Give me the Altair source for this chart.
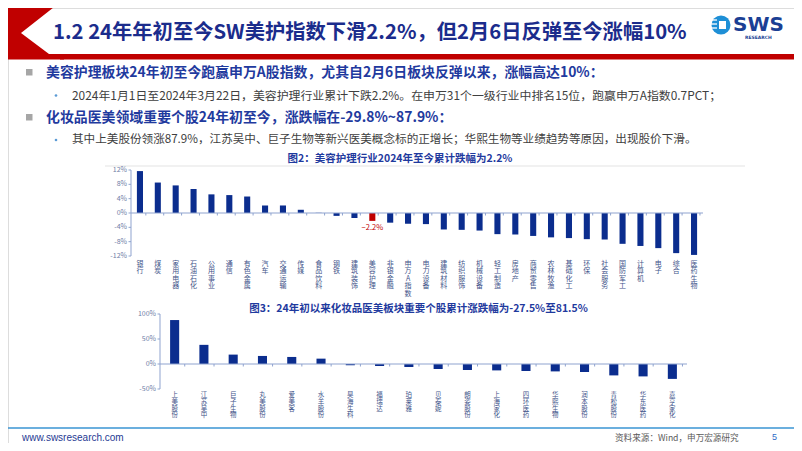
import altair as alt
import pandas as pd

# ---------------- data ----------------
industries = ["银行", "煤炭", "家用电器", "石油石化", "公用事业", "通信", "有色金属", "汽车",
              "交通运输", "传媒", "食品饮料", "钢铁", "建筑装饰", "美容护理", "非银金融", "申万A指数",
              "电力设备", "建筑材料", "纺织服饰", "机械设备", "轻工制造", "房地产", "商贸零售", "农林牧渔",
              "基础化工", "环保", "社会服务", "国防军工", "计算机", "电子", "综合", "医药生物"]
industry_ret = [11.7, 8.5, 7.7, 6.7, 5.2, 5.0, 4.6, 2.1,
                2.1, 0.9, 0.05, -0.8, -1.4, -2.2, -2.7, -3.0,
                -3.1, -4.6, -4.7, -4.9, -5.9, -6.0, -6.4, -6.8,
                -7.0, -7.3, -7.4, -8.6, -9.2, -9.8, -11.2, -11.7]
stocks = ["上美股份", "江苏吴中", "巨子生物", "丸美股份", "爱美客", "水羊股份", "昊海生科", "福瑞达",
          "珀莱雅", "贝泰妮", "朗姿股份", "上海家化", "四环医药", "华熙生物", "润本股份", "青松股份",
          "华东医药", "嘉亨家化"]
stock_ret = [87.9, 38.3, 18.8, 16.1, 14.1, 10.7, -2.5, -4.0,
             -6.0, -10.0, -12.0, -12.8, -14.0, -14.8, -16.0, -22.8,
             -24.8, -29.8]
y1_ticks = [12, 8, 4, 0, -4, -8, -12]
y2_ticks = [100, 50, 0, -50]
highlight = "美容护理"

title_text = "1.2 24年年初至今SW美护指数下滑2.2%，但2月6日反弹至今涨幅10%"
bullet1 = "美容护理板块24年初至今跑赢申万A股指数，尤其自2月6日板块反弹以来，涨幅高达10%："
bullet1a = "2024年1月1日至2024年3月22日，美容护理行业累计下跌2.2%。在申万31个一级行业中排名15位，跑赢申万A指数0.7PCT；"
bullet2 = "化妆品医美领域重要个股24年初至今，涨跌幅在-29.8%~87.9%："
bullet2a = "其中上美股份领涨87.9%，江苏吴中、巨子生物等新兴医美概念标的正增长；华熙生物等业绩趋势等原因，出现股价下滑。"
chart1_title = "图2：美容护理行业2024年至今累计跌幅为2.2%"
chart2_title = "图3：24年初以来化妆品医美板块重要个股累计涨跌幅为-27.5%至81.5%"
footer_left = "www.swsresearch.com"
footer_right = "资料来源：Wind，申万宏源研究"
page_no = "5"

# ---------------- styling ----------------
CJK = "Noto Sans CJK SC"
BAR = "#0B2D8E"
RED = "#C00000"
TITLE_BLUE = "#1B2C8C"
BUL_BLUE = "#1F3A9E"
AX = "#8FA3CF"
AX_TXT = "#6E7EA6"
CAT_TXT = "#42548A"

W, H = 786, 435
def X(p):
    return p - 8
def Y(p):
    return p - 8

one = pd.DataFrame({"k": [0]})

def txt(s, x, y, size, color, weight="normal", align="left", font=CJK):
    return alt.Chart(one).mark_text(text=s, align=align, baseline="middle", fontSize=size,
                                    color=color, fontWeight=weight, font=font).encode(
        x=alt.value(X(x)), y=alt.value(Y(y)))

def rect(x1, y1, x2, y2, color):
    return alt.Chart(one).mark_rect(color=color).encode(
        x=alt.value(X(x1)), x2=alt.value(X(x2)), y=alt.value(Y(y1)), y2=alt.value(Y(y2)))

def rule(x1, y1, x2, y2, color, w=1.0):
    return alt.Chart(one).mark_rule(color=color, strokeWidth=w).encode(
        x=alt.value(X(x1)), x2=alt.value(X(x2)), y=alt.value(Y(y1)), y2=alt.value(Y(y2)))

layers = []

# ---------------- header ----------------
def norm(px, py, cx=32, cy=32, r=32):
    return f"{(px - cx) / r:.4f},{(py - cy) / r:.4f}"
chev_pts = [(12, 0), (63, 0), (21, 33), (49, 54), (64, 54), (64, 59.5), (0, 59.5), (0, 10)]
chev_path = "M" + " L".join(norm(a, b) for a, b in chev_pts) + " Z"
layers.append(alt.Chart(one).mark_point(shape=chev_path, filled=True, size=64 * 64, color=RED,
                                        opacity=1, strokeWidth=0).encode(
    x=alt.value(X(32)), y=alt.value(Y(32))))
layers.append(rect(60, 54, 800, 59.5, RED))
layers.append(txt(title_text, 53, 33, 20.3, TITLE_BLUE, weight="bold"))

# logo
layers.append(alt.Chart(one).mark_circle(size=360, color="#1E8FD6", opacity=1).encode(
    x=alt.value(X(721)), y=alt.value(Y(25))))
for yy in (20, 24, 28):
    layers.append(rule(711, yy, 717, yy, "white", 1.3))
layers.append(rect(719, 21, 726, 29, "white"))
layers.append(txt("SWS", 733, 25, 20, "#1B3F94", weight="bold", font="DejaVu Sans"))
layers.append(txt("RESEARCH", 745, 37.5, 4.5, "#1B3F94", weight="bold", font="DejaVu Sans"))

# ---------------- bullets ----------------
layers.append(rect(26, 69, 32.5, 75.5, "#A6A6A6"))
layers.append(txt(bullet1, 46, 72.5, 13.9, BUL_BLUE, weight="bold"))
layers.append(alt.Chart(one).mark_circle(size=7, color="#5B9BD5", opacity=1).encode(
    x=alt.value(X(56)), y=alt.value(Y(95.5))))
layers.append(txt(bullet1a, 72, 95.5, 11.9, "#404040"))
layers.append(rect(26, 114, 32.5, 120.5, "#A6A6A6"))
layers.append(txt(bullet2, 46, 117.5, 13.9, BUL_BLUE, weight="bold"))
layers.append(alt.Chart(one).mark_circle(size=7, color="#5B9BD5", opacity=1).encode(
    x=alt.value(X(56)), y=alt.value(Y(140))))
layers.append(txt(bullet2a, 72, 140, 11.6, "#404040"))

# helper: vertical (stacked) category labels, one character per row
def stacked_labels(df, field, xscale, top, step, size, maxlen):
    out = []
    for i in range(maxlen):
        out.append(alt.Chart(df).transform_calculate(
            c=f"substring(datum.{field}, {i}, {i + 1})").mark_text(
            baseline="top", align="center", fontSize=size, color=CAT_TXT, font=CJK).encode(
            x=alt.X(f"{field}:N", scale=xscale, axis=None, sort=None),
            y=alt.value(Y(top + i * step)),
            text="c:N"))
    return out

# ---------------- chart 1 ----------------
layers.append(txt(chart1_title, 400, 159, 10.5, BUL_BLUE, weight="bold", align="center"))
layers.append(rule(105, 166, 745, 166, "#E3E3E3", 1))

df1 = pd.DataFrame({"ind": industries, "v": industry_ret})
xs1 = alt.Scale(domain=industries, range=[X(131), X(703)], paddingInner=0.66, paddingOuter=0.33)
ys1 = alt.Scale(domain=[-12, 12], range=[Y(256), Y(170)], nice=False)
step1 = (703 - 131) / len(industries)

layers.append(alt.Chart(df1).mark_bar().encode(
    x=alt.X("ind:N", scale=xs1, axis=None, sort=None),
    y=alt.Y("v:Q", scale=ys1, axis=None),
    y2=alt.datum(0),
    color=alt.condition(alt.datum.ind == highlight, alt.value(RED), alt.value(BAR))))
layers.append(alt.Chart(df1).transform_filter(alt.datum.ind == highlight).transform_calculate(
    t="format(datum.v, '.1f') + '%'").mark_text(
    baseline="top", align="center", fontSize=7.5, color=RED, dy=3, font=CJK).encode(
    x=alt.X("ind:N", scale=xs1, axis=None, sort=None),
    y=alt.Y("v:Q", scale=ys1, axis=None),
    text="t:N"))
layers += stacked_labels(df1, "ind", xs1, 259.5, 7.6, 7, max(len(s) for s in industries))
# axes chart 1
layers.append(alt.Chart(one).mark_rule(color=AX, strokeWidth=1).encode(
    x=alt.value(X(131)), y=alt.YDatum(-12, scale=ys1, axis=None), y2=alt.Y2Datum(12)))
layers.append(alt.Chart(one).mark_rule(color=AX, strokeWidth=1).encode(
    x=alt.value(X(131)), x2=alt.value(X(703)), y=alt.YDatum(0, scale=ys1, axis=None)))
dft1 = pd.DataFrame({"t": y1_ticks, "tl": [f"{t}%" for t in y1_ticks]})
layers.append(alt.Chart(dft1).mark_text(align="right", baseline="middle", fontSize=7,
                                        color=AX_TXT, font=CJK).encode(
    x=alt.value(X(127)), y=alt.Y("t:Q", scale=ys1, axis=None), text="tl:N"))
layers.append(alt.Chart(dft1).mark_rule(color=AX, strokeWidth=1).encode(
    x=alt.value(X(128.5)), x2=alt.value(X(131)), y=alt.Y("t:Q", scale=ys1, axis=None)))
layers.append(alt.Chart(df1).mark_rule(color=AX, strokeWidth=1).encode(
    x=alt.X("ind:N", scale=xs1, axis=None, sort=None),
    xOffset=alt.value(step1 / 2),
    y=alt.value(Y(213)), y2=alt.value(Y(215.5))))

# ---------------- chart 2 ----------------
layers.append(txt(chart2_title, 418.5, 309, 10.5, BUL_BLUE, weight="bold", align="center"))
df2 = pd.DataFrame({"stk": stocks, "v": stock_ret})
xs2 = alt.Scale(domain=stocks, range=[X(160), X(687)], paddingInner=0.69, paddingOuter=0.345)
ys2 = alt.Scale(domain=[-50, 100], range=[Y(389), Y(314)], nice=False)
step2 = (687 - 160) / len(stocks)

layers.append(alt.Chart(df2).mark_bar(color=BAR).encode(
    x=alt.X("stk:N", scale=xs2, axis=None, sort=None),
    y=alt.Y("v:Q", scale=ys2, axis=None),
    y2=alt.datum(0)))
layers += stacked_labels(df2, "stk", xs2, 392, 6.8, 6.5, max(len(s) for s in stocks))
layers.append(alt.Chart(one).mark_rule(color=AX, strokeWidth=1).encode(
    x=alt.value(X(160)), y=alt.YDatum(-50, scale=ys2, axis=None), y2=alt.Y2Datum(100)))
layers.append(alt.Chart(one).mark_rule(color=AX, strokeWidth=1).encode(
    x=alt.value(X(160)), x2=alt.value(X(687)), y=alt.YDatum(0, scale=ys2, axis=None)))
dft2 = pd.DataFrame({"t": y2_ticks, "tl": [f"{t}%" for t in y2_ticks]})
layers.append(alt.Chart(dft2).mark_text(align="right", baseline="middle", fontSize=7,
                                        color=AX_TXT, font=CJK).encode(
    x=alt.value(X(156)), y=alt.Y("t:Q", scale=ys2, axis=None), text="tl:N"))
layers.append(alt.Chart(dft2).mark_rule(color=AX, strokeWidth=1).encode(
    x=alt.value(X(157.5)), x2=alt.value(X(160)), y=alt.Y("t:Q", scale=ys2, axis=None)))
layers.append(alt.Chart(df2).mark_rule(color=AX, strokeWidth=1).encode(
    x=alt.X("stk:N", scale=xs2, axis=None, sort=None),
    xOffset=alt.value(step2 / 2),
    y=alt.value(Y(364)), y2=alt.value(Y(366.5))))

# ---------------- footer ----------------
layers.append(rule(0, 428, 800, 428, "#3A95D3", 1.6))
layers.append(txt(footer_left, 22, 438, 10, "#1F3A93", font="Liberation Sans"))
layers.append(txt(footer_right, 615, 437.5, 8.6, "#595959"))
layers.append(txt(page_no, 772, 437, 9, "#2E6BC6", font="Liberation Sans"))

chart = alt.layer(*layers).resolve_scale(x="independent", y="independent").properties(
    width=W, height=H, padding=0, autosize=alt.AutoSizeParams(type="none"),
    background="white"
).configure_view(stroke=None).configure(font=CJK)

chart.save("out.html", embed_options={"renderer": "svg", "actions": False})
